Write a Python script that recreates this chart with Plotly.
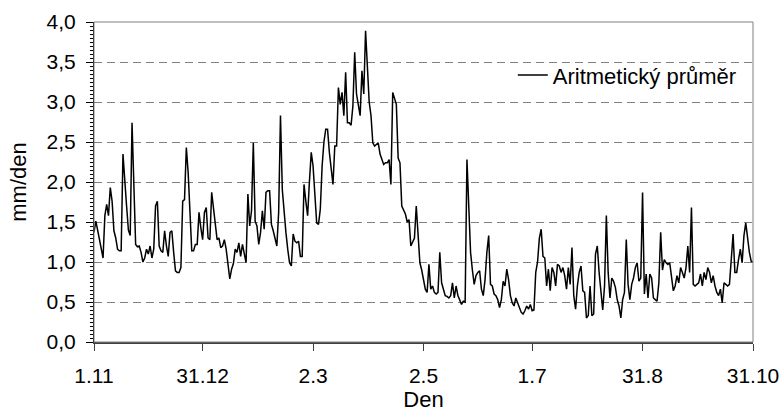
import plotly.graph_objects as go

# x-axis ticks: day offsets from 1 Nov and their labels
tick_days = [0, 60, 121, 182, 242, 303, 364]
tick_labels = ["1.11", "31.12", "2.3", "2.5", "1.7", "31.8", "31.10"]

# daily values (mm/den), split into two-month blocks
vals_nov_dec = [1.37, 1.51, 1.40, 1.28, 1.12, 1.05, 1.58, 1.72, 1.58, 1.93, 1.76, 1.39, 1.30, 1.16, 1.14,
                1.14, 2.35, 2.08, 1.70, 1.40, 1.33, 2.74, 2.00, 1.22, 1.19, 1.20, 1.12, 1.00, 1.05, 1.16,
                1.10, 1.20, 1.05, 1.16, 1.70, 1.76, 1.20, 1.14, 1.12, 1.39, 1.20, 1.07, 1.37, 1.39, 1.12,
                0.89, 0.87, 0.87, 0.93, 1.76, 1.78, 2.43, 2.12, 1.51, 1.14, 1.14, 1.22, 1.22, 1.62, 1.43,
                1.28]
vals_jan_feb = [1.62, 1.68, 1.30, 1.28, 1.87, 1.66, 1.53, 1.28, 1.30, 1.18, 1.20, 1.28, 1.16, 0.99, 0.79,
                0.91, 0.98, 1.16, 1.12, 1.24, 1.07, 1.22, 1.10, 0.99, 1.85, 1.45, 1.64, 2.49, 1.51, 1.45,
                1.22, 1.37, 1.64, 1.41, 1.87, 1.89, 1.89, 1.47, 1.39, 1.30, 1.20, 1.62, 2.83, 1.91, 1.60,
                1.37, 1.16, 0.99, 0.95, 1.35, 1.26, 1.24, 1.26, 1.07, 1.07, 1.97, 1.76, 1.58, 2.01, 2.37,
                2.20]
vals_mar_apr = [1.90, 1.49, 1.47, 1.66, 2.20, 2.50, 2.66, 2.66, 2.37, 2.18, 1.97, 2.45, 2.45, 3.18, 2.97,
                3.12, 2.83, 3.37, 2.74, 2.74, 2.71, 2.95, 3.62, 3.10, 2.95, 2.83, 3.39, 3.10, 3.89, 3.33,
                3.00, 2.83, 2.49, 2.45, 2.47, 2.49, 2.35, 2.28, 2.22, 2.24, 2.24, 2.28, 1.97, 3.12, 3.05,
                2.97, 2.30, 2.24, 1.70, 1.64, 1.60, 1.50, 1.53, 1.20, 1.25, 1.30, 1.70, 1.39, 0.99, 0.90,
                0.80]
vals_may_jun = [0.66, 0.62, 0.97, 0.66, 0.70, 0.62, 0.60, 0.62, 1.12, 0.74, 0.64, 0.58, 0.57, 0.55, 0.58,
                0.74, 0.55, 0.70, 0.58, 0.51, 0.47, 0.51, 0.50, 2.28, 1.60, 1.12, 0.90, 0.72, 0.83, 0.87,
                0.89, 0.66, 0.58, 0.78, 1.12, 1.33, 0.72, 0.70, 0.60, 0.58, 0.53, 0.43, 0.53, 0.76, 0.70,
                0.91, 0.78, 0.58, 0.49, 0.45, 0.55, 0.49, 0.41, 0.37, 0.35, 0.39, 0.45, 0.41, 0.47, 0.39]
vals_jul_aug = [0.40, 0.87, 1.00, 1.30, 1.41, 1.07, 1.05, 0.70, 0.91, 0.64, 0.93, 0.87, 0.70, 0.97, 0.95,
                0.87, 0.93, 0.83, 0.66, 0.93, 0.72, 1.18, 0.58, 0.41, 0.70, 0.87, 0.95, 0.64, 0.62, 0.30,
                0.33, 0.70, 0.33, 0.35, 1.10, 1.20, 0.87, 0.62, 0.40, 0.70, 1.58, 0.87, 0.55, 0.80, 0.76,
                0.68, 0.53, 0.45, 0.30, 0.53, 0.62, 1.28, 0.72, 0.53, 0.72, 0.80, 0.93, 0.99, 0.76, 0.80,
                1.87]
vals_sep_oct = [0.60, 0.85, 0.55, 0.85, 0.80, 0.55, 0.53, 0.51, 0.74, 1.37, 0.90, 1.03, 0.99, 0.97, 0.99,
                0.80, 0.64, 0.70, 0.83, 0.74, 0.93, 0.87, 0.80, 0.93, 1.20, 0.87, 1.68, 0.72, 0.70, 0.72,
                0.74, 0.85, 0.70, 0.87, 0.78, 0.93, 0.87, 0.74, 0.83, 0.70, 0.62, 0.58, 0.66, 0.49, 0.74,
                0.72, 0.70, 0.72, 1.00, 1.35, 0.87, 0.87, 1.03, 1.16, 0.99, 1.33, 1.49, 1.26, 1.12, 1.01,
                1.00]

values = vals_nov_dec + vals_jan_feb + vals_mar_apr + vals_may_jun + vals_jul_aug + vals_sep_oct
days = list(range(len(values)))

FONT = "Liberation Sans, Arial, sans-serif"

fig = go.Figure()
fig.add_trace(go.Scatter(
    x=days, y=values, mode="lines", name="Aritmetický průměr",
    line=dict(color="black", width=1.5),
))

fig.update_layout(
    width=780, height=414,
    margin=dict(l=94, r=27, t=22, b=72),
    paper_bgcolor="white", plot_bgcolor="white",
    separators=", ",
    font=dict(family=FONT, color="black", size=21),
    showlegend=True,
    legend=dict(x=0.983, xanchor="right", y=0.834, yanchor="middle",
                bgcolor="rgba(0,0,0,0)", borderwidth=0,
                font=dict(family=FONT, size=22, color="black")),
    shapes=[
        dict(type="rect", xref="paper", yref="paper", x0=0.593, x1=0.983, y0=0.725, y1=0.905,
             fillcolor="white", line=dict(width=0), layer="between"),
        dict(type="rect", xref="paper", yref="paper", x0=0, x1=1, y0=0, y1=1,
             line=dict(color="#808080", width=1), layer="above"),
    ],
)

fig.update_xaxes(
    range=[0, 364], tickmode="array", tickvals=tick_days, ticktext=tick_labels,
    showgrid=False, zeroline=False, automargin=False,
    showline=True, linecolor="#404040", linewidth=2,
    ticks="outside", ticklen=7, tickcolor="#404040", tickwidth=1,
    ticklabelstandoff=7,
    tickfont=dict(size=21),
    title=dict(text="Den", font=dict(size=22), standoff=2),
)

fig.update_yaxes(
    range=[0, 4], dtick=0.5, tick0=0, tickformat=".1f",
    showgrid=True, gridcolor="#808080", gridwidth=1, griddash="8px,5px",
    zeroline=False, automargin=False,
    showline=True, linecolor="black", linewidth=1,
    ticks="outside", ticklen=7, tickcolor="black", tickwidth=1,
    ticklabelstandoff=6,
    minor=dict(dtick=0.05, ticks="outside", ticklen=3, tickcolor="black", showgrid=False),
    tickfont=dict(size=21),
    title=dict(text="mm/den", font=dict(size=22), standoff=13),
)

fig.write_html("out.html")
